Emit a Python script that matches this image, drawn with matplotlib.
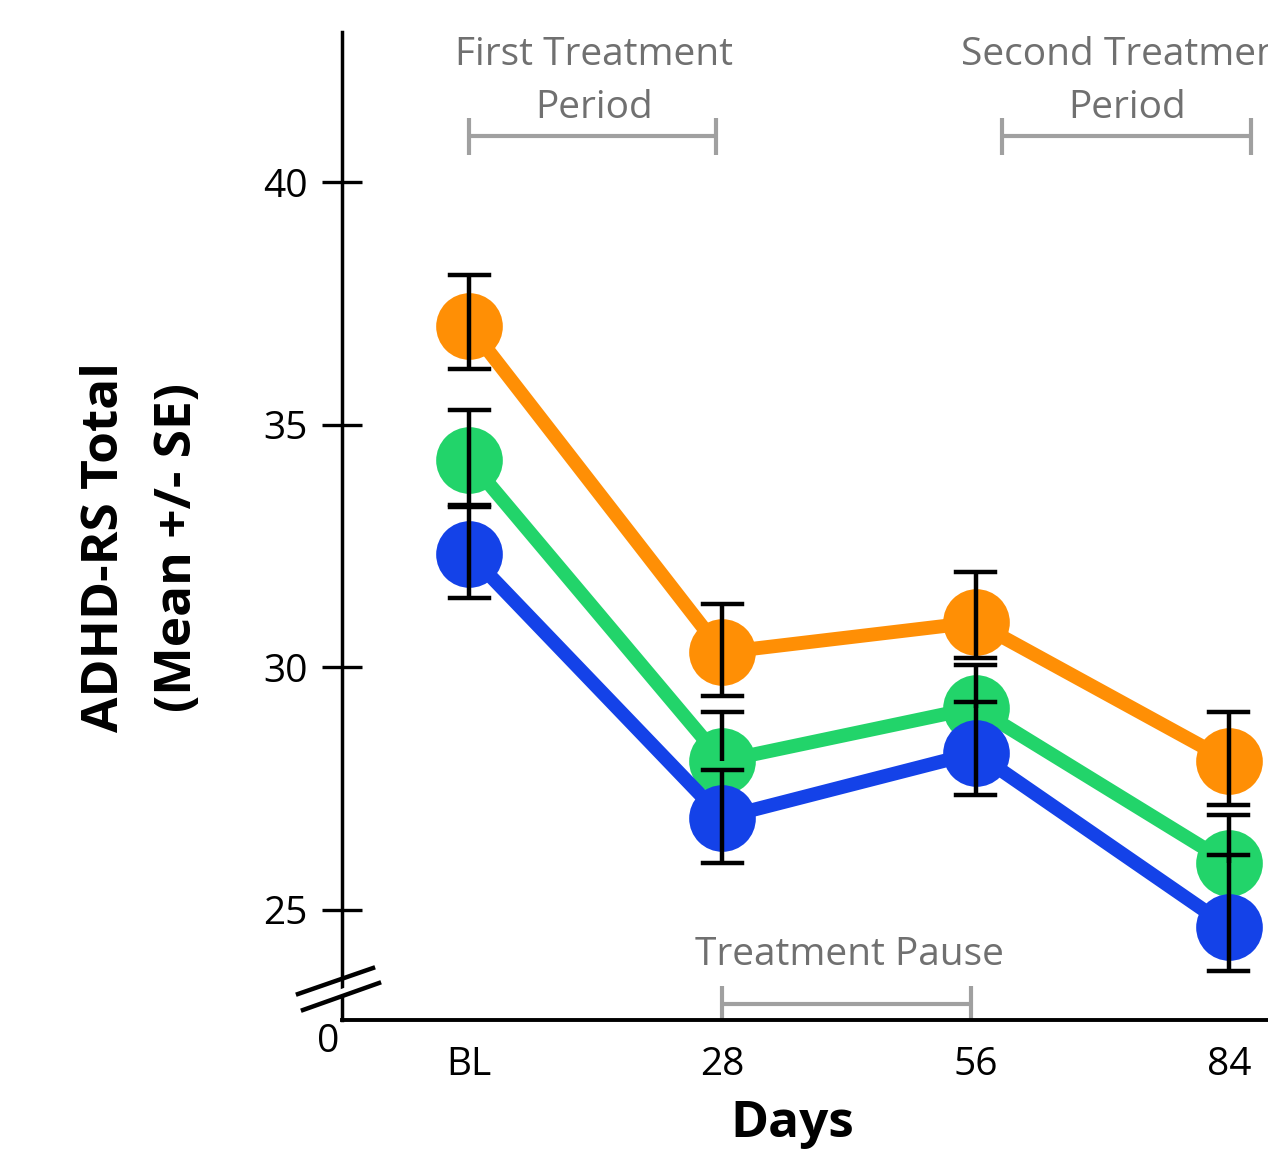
import matplotlib
matplotlib.use("Agg")
import matplotlib.pyplot as plt
from matplotlib.lines import Line2D
from matplotlib.patches import Polygon

plt.rcParams['font.family'] = ['Open Sans', 'DejaVu Sans']

# ---------------- data ----------------
days = ["BL", "28", "56", "84"]
yticks = [25, 30, 35, 40]

orange = [37.04, 30.31, 30.93, 28.07]
green = [34.27, 28.07, 29.17, 25.96]
blue = [32.34, 26.90, 28.24, 24.64]

orange_hi = [38.10, 31.31, 31.97, 29.09]
orange_lo = [36.15, 29.40, 30.19, 27.16]
green_hi = [35.30, 29.09, 30.04, 26.96]
green_lo = [33.31, None, None, None]
blue_hi = [33.35, 27.89, 29.28, 26.13]
blue_lo = [31.43, 25.96, 27.37, 23.75]

# ---------------- styling ----------------
W, H = 1268, 1153
C_OR = "#FF8F05"
C_GR = "#22D46A"
C_BL = "#1442E8"
GRAY_T = "#707070"
GRAY_L = "#A0A0A0"
FS = 28
FSB = 37

fig = plt.figure(figsize=(W / 100, H / 100), dpi=100)
ax = fig.add_axes([342 / W, 1 - 1020 / H, 1 - 342 / W, (1020 - 32) / H])

xs = list(range(len(days)))
for vals, col in [(orange, C_OR), (green, C_GR), (blue, C_BL)]:
    ax.plot(xs, vals, color=col, lw=10, marker='o', markersize=48,
            markeredgewidth=0, solid_capstyle='round', zorder=3)

cap_half = 0.077
for hi, lo, c in [(orange_hi, orange_lo, orange), (green_hi, green_lo, green),
                  (blue_hi, blue_lo, blue)]:
    for i in xs:
        bottom = lo[i] if lo[i] is not None else c[i]
        ax.plot([i, i], [bottom, hi[i]], color='black', lw=3.2, zorder=5,
                solid_capstyle='butt')
        ax.plot([i - cap_half, i + cap_half], [hi[i], hi[i]], color='black',
                lw=3.2, zorder=5)
        if lo[i] is not None:
            ax.plot([i - cap_half, i + cap_half], [lo[i], lo[i]],
                    color='black', lw=3.2, zorder=5)

ax.set_xlim(-0.502, 3.154)
ax.set_ylim(22.73, 43.1)
ax.set_xticks(xs)
ax.set_xticklabels(days)
ax.set_yticks(yticks)
ax.tick_params(axis='x', length=0, pad=19, labelsize=FS)
ax.tick_params(axis='y', direction='inout', length=29, width=2.4, pad=10,
               labelsize=FS)
for s in ['top', 'right']:
    ax.spines[s].set_visible(False)
ax.spines['left'].set_linewidth(2.5)
ax.spines['bottom'].set_linewidth(2.8)

# brackets
def bracket(x0, x1, y, h):
    ax.plot([x0, x1], [y, y], color=GRAY_L, lw=3, clip_on=False, zorder=2,
            solid_capstyle='butt')
    for xx in (x0, x1):
        ax.plot([xx, xx], [y - h, y + h], color=GRAY_L, lw=3, clip_on=False,
                zorder=2, solid_capstyle='butt')

bracket(0.0, 0.976, 40.95, 0.38)
bracket(2.105, 3.088, 40.95, 0.38)
ax.plot([1.0, 1.98], [23.07, 23.07], color=GRAY_L, lw=3, zorder=2,
        solid_capstyle='butt')
for xx in (1.0, 1.98):
    ax.plot([xx, xx], [22.73, 23.44], color=GRAY_L, lw=3, zorder=2,
            solid_capstyle='butt')

ax.text(0.493, 42.62, "First Treatment", ha='center', va='center',
        fontsize=FS, color=GRAY_T, clip_on=False)
ax.text(0.493, 41.53, "Period", ha='center', va='center',
        fontsize=FS, color=GRAY_T, clip_on=False)
ax.text(2.598, 42.62, "Second Treatment", ha='center', va='center',
        fontsize=FS, color=GRAY_T, clip_on=False)
ax.text(2.598, 41.53, "Period", ha='center', va='center',
        fontsize=FS, color=GRAY_T, clip_on=False)
ax.text(1.50, 24.08, "Treatment Pause", ha='center', va='center',
        fontsize=FS, color=GRAY_T)

# axis break marks
def fx(px):
    return px / W

def fy(py):
    return 1 - py / H

gap = Polygon([(fx(330), fy(993)), (fx(355), fy(984)), (fx(355), fy(993)),
               (fx(330), fy(1002))], closed=True, transform=fig.transFigure,
              facecolor='white', edgecolor='none', zorder=10)
fig.add_artist(gap)
fig.add_artist(Line2D([fx(298), fx(373)], [fy(994), fy(968)], color='black',
                      lw=3.2, transform=fig.transFigure, zorder=11))
fig.add_artist(Line2D([fx(303), fx(379)], [fy(1010), fy(983)], color='black',
                      lw=3.2, transform=fig.transFigure, zorder=11))

fig.text(fx(328), fy(1042), "0", ha='center', va='center', fontsize=FS)
fig.text(fx(792), fy(1124), "Days", ha='center', va='center', fontsize=FSB,
         fontweight='bold')
fig.text(fx(105), fy(547), "ADHD-RS Total", ha='center', va='center',
         rotation=90, fontsize=FSB, fontweight='bold')
fig.text(fx(178), fy(547), "(Mean +/- SE)", ha='center', va='center',
         rotation=90, fontsize=FSB, fontweight='bold')

fig.savefig("out.png", dpi=100)
